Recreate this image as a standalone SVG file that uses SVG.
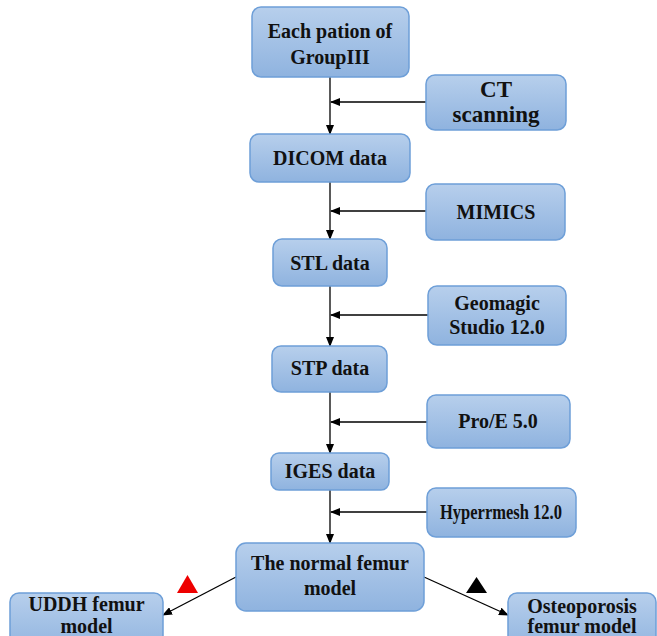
<svg xmlns="http://www.w3.org/2000/svg" width="657" height="636" viewBox="0 0 657 636">
<defs>
<linearGradient id="g" x1="0" y1="0" x2="0" y2="1">
<stop offset="0" stop-color="#b7cfec"/>
<stop offset="1" stop-color="#8fb3df"/>
</linearGradient>
<marker id="a" markerWidth="10" markerHeight="8" refX="9" refY="4" orient="auto" markerUnits="userSpaceOnUse">
<path d="M0,0 L10,4 L0,8 Z" fill="#000"/>
</marker>
<style>
.b{fill:url(#g);stroke:#6e9fd8;stroke-width:1.5}
.t{font-family:"Liberation Serif","Times New Roman",serif;font-weight:bold;font-size:20px;fill:#111;text-anchor:middle}
.c{stroke:#000;stroke-width:1.3;fill:none;marker-end:url(#a)}
</style>
</defs>
<rect width="657" height="636" fill="#fff"/>
<g id="connectors">
<path class="c" d="M330,77 V134"/>
<path class="c" d="M330,182 V239"/>
<path class="c" d="M330,286 V346"/>
<path class="c" d="M330,392 V453"/>
<path class="c" d="M330,490 V543"/>
<path class="c" d="M426,102 H331"/>
<path class="c" d="M426,211 H331"/>
<path class="c" d="M428,315 H331"/>
<path class="c" d="M427,422 H331"/>
<path class="c" d="M427,512 H331"/>
<path class="c" d="M236,577 L163,615"/>
<path class="c" d="M424,577 L508,615"/>
</g>
<g id="marks">
<polygon points="177,593 198,593 187.5,575" fill="#ee0000"/>
<polygon points="466,593 487,593 476.5,577" fill="#000"/>
</g>
<g id="n1"><rect class="b" x="252" y="7" width="157" height="70" rx="9"/><text class="t" x="330" y="38">Each pation of</text><text class="t" x="330" y="64">GroupIII</text></g>
<g id="n2"><rect class="b" x="426" y="75" width="140" height="55" rx="9"/><text class="t" x="496" y="97" style="font-size:23px">CT</text><text class="t" x="496" y="122" style="font-size:23px">scanning</text></g>
<g id="n3"><rect class="b" x="250" y="134" width="160" height="48" rx="9"/><text class="t" x="330" y="165">DICOM data</text></g>
<g id="n4"><rect class="b" x="426" y="184" width="139" height="56" rx="9"/><text class="t" x="496" y="219">MIMICS</text></g>
<g id="n5"><rect class="b" x="273" y="239" width="114" height="47" rx="9"/><text class="t" x="330" y="270">STL data</text></g>
<g id="n6"><rect class="b" x="428" y="286" width="138" height="59" rx="9"/><text class="t" x="497" y="310">Geomagic</text><text class="t" x="497" y="334">Studio 12.0</text></g>
<g id="n7"><rect class="b" x="272" y="346" width="115" height="46" rx="9"/><text class="t" x="330" y="375">STP data</text></g>
<g id="n8"><rect class="b" x="427" y="395" width="143" height="53" rx="9"/><text class="t" x="498" y="428">Pro/E 5.0</text></g>
<g id="n9"><rect class="b" x="271" y="453" width="118" height="37" rx="8"/><text class="t" x="330" y="478">IGES data</text></g>
<g id="n10"><rect class="b" x="427" y="488" width="149" height="49" rx="9"/><text class="t" x="501" y="519" textLength="122" lengthAdjust="spacingAndGlyphs">Hyperrmesh 12.0</text></g>
<g id="n11"><rect class="b" x="236" y="543" width="188" height="68" rx="10"/><text class="t" x="330" y="570">The normal femur</text><text class="t" x="330" y="595">model</text></g>
<g id="n12"><rect class="b" x="10" y="593" width="153" height="60" rx="9"/><text class="t" x="86.5" y="611">UDDH femur</text><text class="t" x="86.5" y="633">model</text></g>
<g id="n13"><rect class="b" x="508" y="593" width="148" height="60" rx="9"/><text class="t" x="582" y="613">Osteoporosis</text><text class="t" x="582" y="633">femur model</text></g>
</svg>
